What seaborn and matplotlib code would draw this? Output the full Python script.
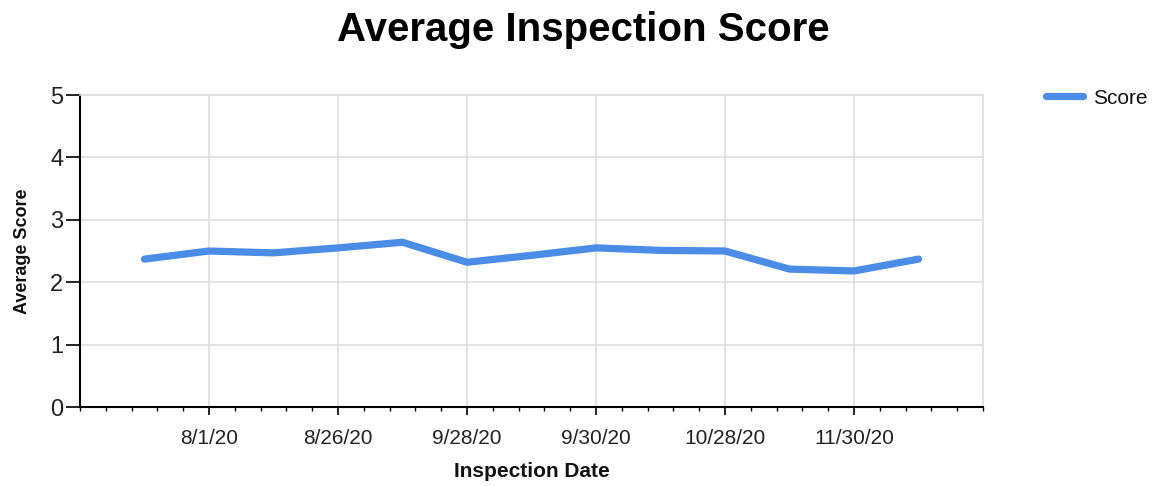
import matplotlib
matplotlib.use("Agg")
import matplotlib.pyplot as plt
import seaborn as sns
import pandas as pd
from matplotlib.ticker import MultipleLocator, FixedLocator

# ---- data ----
point_index = list(range(13))
tick_labels = ["", "8/1/20", "", "8/26/20", "", "9/28/20", "", "9/30/20", "", "10/28/20", "", "11/30/20", ""]
scores = [2.37, 2.50, 2.47, 2.55, 2.64, 2.32, 2.43, 2.55, 2.51, 2.50, 2.21, 2.18, 2.37]
series_name = "Score"

df = pd.DataFrame({"idx": point_index, "Average Score": scores, "series": series_name})

sns.set_theme(style="white")
plt.rcParams["font.family"] = ["Liberation Sans", "DejaVu Sans"]
plt.rcParams["text.color"] = "#111111"
plt.rcParams["axes.labelcolor"] = "#111111"
plt.rcParams["xtick.color"] = "#222222"
plt.rcParams["ytick.color"] = "#222222"

fig = plt.figure(figsize=(11.54, 4.86), dpi=100)
ax = fig.add_axes([80 / 1154, 1 - 407 / 486, (983 - 80) / 1154, (407 - 95) / 486])

sns.lineplot(data=df, x="idx", y="Average Score", hue="series", palette=["#4a8ce6"],
             linewidth=5.2, ax=ax, legend=True)

ax.set_xlim(-1, 13)
ax.set_ylim(0, 5)

major = [i for i, t in zip(point_index, tick_labels) if t]
ax.xaxis.set_major_locator(FixedLocator(major))
ax.set_xticklabels([t for t in tick_labels if t], fontsize=15)
ax.xaxis.set_minor_locator(FixedLocator([-1 + 0.4 * k for k in range(36)]))
ax.yaxis.set_major_locator(MultipleLocator(1))
for lab in ax.get_yticklabels():
    lab.set_fontsize(17)

ax.tick_params(axis="x", which="major", direction="out", length=6, width=1.2, color="black", pad=10, bottom=True)
ax.tick_params(axis="x", which="minor", direction="out", length=3, width=1, color="black", bottom=True)
ax.tick_params(axis="y", which="major", direction="out", length=10, width=1.2, color="black", pad=2, left=True)

ax.grid(True, which="major", color="#dedede", linewidth=1.2)
for s in ["left", "bottom"]:
    ax.spines[s].set_color("black")
    ax.spines[s].set_linewidth(1.5)
for s in ["top", "right"]:
    ax.spines[s].set_color("#dedede")
    ax.spines[s].set_linewidth(1.2)

ax.set_xlabel("Inspection Date", fontsize=15, fontweight="bold", labelpad=10)
ax.set_ylabel("Average Score", fontsize=13, fontweight="bold", labelpad=14)

fig.suptitle("Average Inspection Score", fontsize=29, fontweight="bold", x=583 / 1154,
             y=1 - 30 / 486, va="center", color="#000000")

handles, labels = ax.get_legend_handles_labels()
ax.legend(handles, labels, loc="upper left", bbox_to_anchor=(1027 / 1154, 1 - 70 / 486),
          bbox_transform=fig.transFigure, frameon=False, fontsize=15, handlelength=1.8,
          handletextpad=0.45)

fig.savefig("out.png", dpi=100)
